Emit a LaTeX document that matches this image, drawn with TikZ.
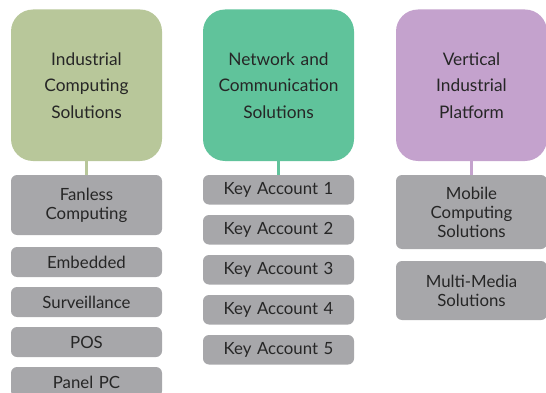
\documentclass[tikz,border=0pt]{standalone}
\usepackage{fontspec}
\setmainfont{Lato}
\definecolor{sage}{HTML}{B8C79A}
\definecolor{mint}{HTML}{60C39B}
\definecolor{lav}{HTML}{C4A2CD}
\definecolor{grayb}{HTML}{A7A7AA}
\definecolor{txt}{HTML}{262626}
\begin{document}
\begin{tikzpicture}[x=1pt,y=-1pt,
  topbox/.style={rectangle, rounded corners=22pt, minimum width=151pt, minimum height=151.5pt,
    inner sep=0pt, text width=145pt, align=center, text=txt,
    font=\fontsize{17.3}{26.5}\selectfont},
  graybox/.style={rectangle, rounded corners=6pt, fill=grayb, minimum width=151pt,
    inner sep=0pt, text width=145pt, align=center, text=txt,
    font=\fontsize{16.8}{19}\selectfont},
  link/.style={line width=2.5pt}]
\useasboundingbox (0,0) rectangle (546,393);
\begin{scope}
\clip (0,0) rectangle (546,393);
% top boxes
\node[topbox, fill=sage] (ics) at (86.5,85.25) {Industrial\\Computing\\Solutions};
\node[topbox, fill=mint] (ncs) at (278.5,85.25) {Network and\\Communication\\Solutions};
\node[topbox, fill=lav] (vip) at (471.5,85.25) {Vertical\\Industrial\\Platform};
% column 1
\node[graybox, minimum height=60pt] (fan) at (86.5,205) {Fanless\\Computing};
\node[graybox, minimum height=30pt] (emb) at (86.5,262) {Embedded};
\node[graybox, minimum height=30pt] (sur) at (86.5,302) {Surveillance};
\node[graybox, minimum height=30pt] (pos) at (86.5,342) {POS};
\node[graybox, minimum height=30pt] (pan) at (86.5,382) {Panel PC};
% column 2
\node[graybox, minimum height=29.5pt] (ka1) at (278.5,189.75) {Key Account 1};
\node[graybox, minimum height=29.5pt] (ka2) at (278.5,229.75) {Key Account 2};
\node[graybox, minimum height=29.5pt] (ka3) at (278.5,269.75) {Key Account 3};
\node[graybox, minimum height=29.5pt] (ka4) at (278.5,309.75) {Key Account 4};
\node[graybox, minimum height=29.5pt] (ka5) at (278.5,349.75) {Key Account 5};
% column 3
\node[graybox, minimum height=74pt] (mob) at (471.5,212) {Mobile\\Computing\\Solutions};
\node[graybox, minimum height=59pt] (mm) at (471.5,290.5) {Multi-Media\\Solutions};
% connectors
\draw[link, sage] (ics.south) -- (fan.north);
\draw[link, mint] (ncs.south) -- (ka1.north);
\draw[link, lav] (vip.south) -- (mob.north);
\end{scope}
\end{tikzpicture}
\end{document}
